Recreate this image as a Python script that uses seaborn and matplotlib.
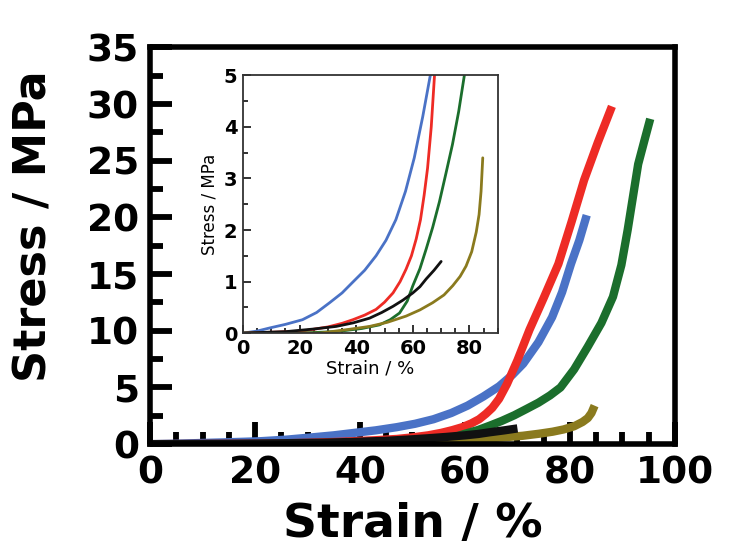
import pandas as pd
import matplotlib
matplotlib.use("Agg")
import matplotlib.pyplot as plt
from matplotlib.ticker import MultipleLocator
import seaborn as sns

# stress-strain curves, values (strain in %, stress in MPa)
blue_strain = [0, 5, 9.4, 15, 21, 26, 30.6, 35, 38.8, 43, 47, 50.5, 54, 57.4, 60.5,
               63.5, 66.5, 69, 71.1, 74, 76.6, 78.5, 80.2, 81.8, 83.2]
blue_stress = [0, 0.04, 0.1, 0.17, 0.26, 0.4, 0.59, 0.78, 0.99, 1.22, 1.5, 1.8, 2.2,
               2.75, 3.4, 4.2, 5.1, 6.1, 7.1, 9.0, 11.2, 13.4, 15.9, 18, 20.2]

red_strain = [0, 12, 21, 30, 35, 38.8, 43, 47, 50, 53, 55.5, 57.6, 59.5, 61.2, 62.7,
              64, 65.2, 66.5, 68, 70, 72.3, 75, 77.8, 80.3, 82.7, 85.3, 88]
red_stress = [0, 0.02, 0.04, 0.12, 0.19, 0.26, 0.35, 0.46, 0.6, 0.78, 1.0, 1.24, 1.5,
              1.83, 2.2, 2.68, 3.2, 4.0, 5.3, 7.4, 10.1, 12.9, 15.9, 19.6, 23.3, 26.6, 29.8]

green_strain = [0, 20, 33, 42, 48.2, 52, 55.3, 58, 60, 62.5, 64.7, 67, 69.4, 71.7, 74,
                76.2, 78.2, 80.8, 83.4, 86, 88.2, 89.8, 91, 92, 93, 94.2, 95.3]
green_stress = [0, 0, 0.03, 0.09, 0.16, 0.26, 0.39, 0.62, 0.92, 1.25, 1.63, 2.05, 2.55,
                3.1, 3.66, 4.3, 5.0, 6.6, 8.6, 10.7, 13, 15.8, 18.9, 21.8, 24.7, 26.8, 28.7]

olive_strain = [0, 27, 37, 44.7, 51, 57.6, 62.5, 67, 71, 74.1, 76.7, 78.8, 80.8, 82.4,
                83.4, 84.1, 84.7]
olive_stress = [0, 0, 0.07, 0.13, 0.21, 0.33, 0.45, 0.59, 0.74, 0.92, 1.1, 1.3, 1.58,
                1.96, 2.3, 2.75, 3.4]

black_strain = [0, 15.3, 25, 32.9, 39, 44.7, 49, 53, 56.5, 60, 62.5, 64.7, 67.5, 70]
black_stress = [0, 0.03, 0.08, 0.13, 0.2, 0.29, 0.4, 0.52, 0.64, 0.78, 0.9, 1.05, 1.22, 1.39]

samples = ["blue", "red", "green", "olive", "black"]
colors = {"blue": "#4a72c6", "red": "#ee2b25", "green": "#1b6e2c",
          "olive": "#8a7a1e", "black": "#111111"}

main_xticks = [0, 20, 40, 60, 80, 100]
main_yticks = [0, 5, 10, 15, 20, 25, 30, 35]
inset_xticks = [0, 20, 40, 60, 80]
inset_yticks = [0, 1, 2, 3, 4, 5]


def build_frame():
    parts = []
    for name, xs, ys in [("blue", blue_strain, blue_stress),
                         ("red", red_strain, red_stress),
                         ("green", green_strain, green_stress),
                         ("olive", olive_strain, olive_stress),
                         ("black", black_strain, black_stress)]:
        parts.append(pd.DataFrame({"strain": xs, "stress": ys, "sample": name}))
    return pd.concat(parts, ignore_index=True)


def main():
    df = build_frame()
    sns.set_style("white")
    plt.rcParams["font.family"] = ["DejaVu Sans"]
    plt.rcParams["text.color"] = "black"
    plt.rcParams["axes.labelcolor"] = "black"
    plt.rcParams["xtick.color"] = "black"
    plt.rcParams["ytick.color"] = "black"

    fig = plt.figure(figsize=(7.32, 5.58), dpi=100)
    ax = fig.add_axes([0.205, 0.204, 0.717, 0.711])

    sns.lineplot(data=df, x="strain", y="stress", hue="sample", hue_order=samples,
                 palette=colors, sort=False, estimator=None, legend=False,
                 linewidth=6, solid_capstyle="butt", ax=ax)

    ax.set_xlim(0, 100)
    ax.set_ylim(0, 35)
    ax.set_xticks(main_xticks)
    ax.set_yticks(main_yticks)
    ax.xaxis.set_minor_locator(MultipleLocator(5))
    ax.yaxis.set_minor_locator(MultipleLocator(2.5))
    ax.tick_params(which="both", direction="in", width=4.2, color="black",
                   bottom=True, left=True, top=False, right=False)
    ax.tick_params(which="major", length=16, labelsize=27, pad=8)
    ax.tick_params(which="minor", length=9)
    for lab in ax.get_xticklabels() + ax.get_yticklabels():
        lab.set_fontweight("bold")
    for sp in ax.spines.values():
        sp.set_linewidth(4)
        sp.set_color("black")
        sp.set_zorder(5)
    ax.set_xlabel("Strain / %", fontsize=34, fontweight="bold", labelpad=8)
    ax.set_ylabel("Stress / MPa", fontsize=32, fontweight="bold")
    ax.yaxis.set_label_coords(-0.18, 0.55)

    # inset: zoom on the low-stress region
    ins = fig.add_axes([0.332, 0.403, 0.348, 0.462])
    sns.lineplot(data=df, x="strain", y="stress", hue="sample", hue_order=samples,
                 palette=colors, sort=False, estimator=None, legend=False,
                 linewidth=2, ax=ins)
    ins.set_xlim(0, 90)
    ins.set_ylim(0, 5)
    ins.set_xticks(inset_xticks)
    ins.set_yticks(inset_yticks)
    ins.xaxis.set_minor_locator(MultipleLocator(5))
    ins.yaxis.set_minor_locator(MultipleLocator(0.5))
    ins.tick_params(which="both", direction="in", width=1.3, color="#222222",
                    bottom=True, left=True, top=False, right=False)
    ins.tick_params(which="major", length=6, labelsize=14, pad=4)
    ins.tick_params(which="minor", length=3.5)
    for lab in ins.get_xticklabels() + ins.get_yticklabels():
        lab.set_fontweight("semibold")
    for sp in ins.spines.values():
        sp.set_linewidth(1.3)
        sp.set_color("#333333")
    ins.set_xlabel("Strain / %", fontsize=13, labelpad=1)
    ins.set_ylabel("Stress / MPa", fontsize=12, labelpad=4)
    ins.set_facecolor("white")

    fig.savefig("out.png", dpi=100)


if __name__ == "__main__":
    main()
